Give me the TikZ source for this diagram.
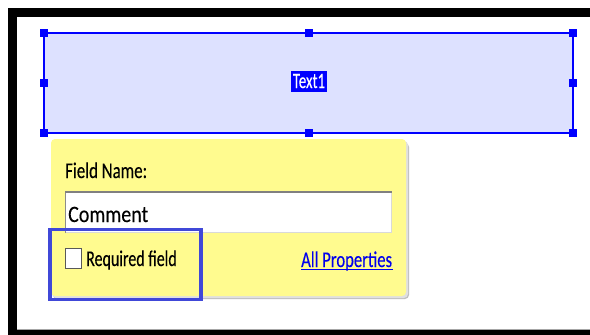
\documentclass[tikz,border=0pt]{standalone}
\usepackage{fontspec}
\usepackage{graphicx}
\setmainfont{Carlito}[FakeBold=0.25]
\definecolor{panelyellow}{HTML}{FFFB8F}
\definecolor{fieldfill}{HTML}{DDE1FF}
\definecolor{selblue}{HTML}{0000FF}
\definecolor{hiblue}{HTML}{4048D8}
\definecolor{linkblue}{HTML}{0000EE}
\tikzset{
  handle/.style={fill=selblue, minimum size=8.5pt, inner sep=0pt, draw=none},
  lbl/.style={anchor=base west, inner sep=0pt, text=black},
}
\begin{document}
\begin{tikzpicture}[x=1pt,y=-1pt]
\useasboundingbox (0,0) rectangle (590,335);
\fill[white] (0,0) rectangle (590,335);
% outer frame
\fill[gray!70] (8,7.5) rectangle (590,8.5);
\fill[black] (8.3,8.3) rectangle (590,16.7);
\fill[black] (8.3,8.3) rectangle (16.7,335);
\fill[gray!70] (16.7,328.5) rectangle (590,329.5);
\fill[black] (8.3,329.5) rectangle (590,335);
% form field
\draw[selblue, line width=2.5pt, fill=fieldfill] (44,33) rectangle (573,133);
\foreach \n/\x/\y in {a/44/33,b/309/33,c/573/33,d/44/83,e/573/83,f/44/133,g/309/133,h/573/133}
  \node[handle] (h\n) at (\x,\y) {};
\node[fill=selblue, text=white, minimum width=36pt, minimum height=21pt, inner sep=0pt] (t1) at (309,81)
  {\fontsize{22}{22}\selectfont\scalebox{0.68}[1]{Text1}};
% popup shadow + panel
\fill[black!25, rounded corners=4pt] (53,143) rectangle (409,299);
\fill[black!12, rounded corners=4pt] (52,141) rectangle (408,298);
\fill[panelyellow, rounded corners=4pt] (51,139) rectangle (406,296);
\node[lbl] (fn) at (65,178) {\fontsize{22.5}{22}\selectfont\scalebox{0.75}[1]{Field Name:}};
% text box
\fill[white] (65,191) rectangle (392,233);
\draw[black!15, line width=1.2pt] (65,232.4) -- (391.4,232.4) -- (391.4,191);
\draw[black!45, line width=1.2pt] (65.6,233) -- (65.6,191);
\draw[black!50, line width=2pt] (65,192) -- (392,192);
\node[lbl] (cm) at (68,222) {\fontsize{23.5}{23}\selectfont\scalebox{0.85}[1]{Comment}};
% checkbox
\node[draw=black!65, fill=white, line width=0.9pt, minimum width=16pt, minimum height=20pt, inner sep=0pt] (cb) at (73.5,258.5) {};
\node[lbl] (rf) at (86,266) {\fontsize{22.5}{22}\selectfont\scalebox{0.71}[1]{Required field}};
\node[lbl, text=linkblue] (ap) at (301,267) {\fontsize{22.5}{22}\selectfont\scalebox{0.74}[1]{All Properties}};
\draw[linkblue, line width=0.9pt] (ap.base west) ++(0,2) -- ++(92,0);
% highlight
\node[draw=hiblue, line width=3.3pt, minimum width=151pt, minimum height=70pt, inner sep=0pt] (hl) at (125.5,264.5) {};
\end{tikzpicture}
\end{document}
